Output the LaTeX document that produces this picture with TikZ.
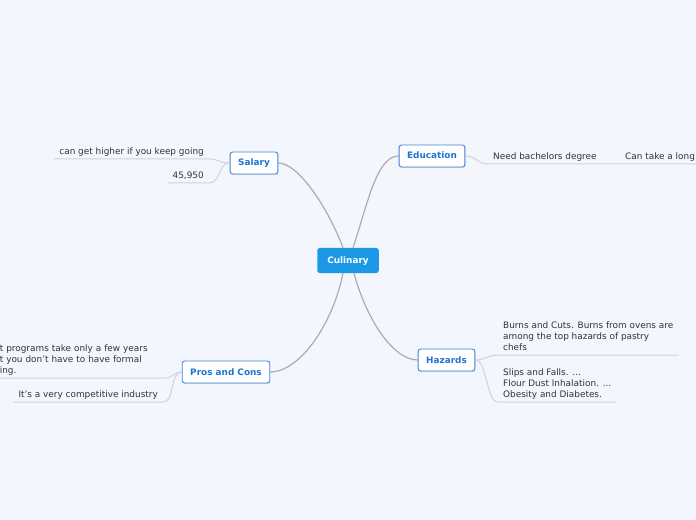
\documentclass[tikz,border=0pt]{standalone}
\usepackage{fontspec}
\setmainfont{DejaVu Sans}
\usetikzlibrary{shadows}
\definecolor{PageBg}{RGB}{243,246,253}
\definecolor{CentralBlue}{RGB}{27,152,230}
\definecolor{TopicBorder}{RGB}{60,133,214}
\definecolor{TopicText}{RGB}{28,117,212}
\definecolor{LeafText}{RGB}{51,51,51}
\definecolor{BranchGray}{RGB}{172,172,180}
\definecolor{TwigGray}{RGB}{205,210,222}
\newcommand{\leaffont}{\fontsize{8.9bp}{11bp}\selectfont}
\newcommand{\topicfont}{\fontsize{8.9bp}{11bp}\selectfont\bfseries}

\begin{document}
\begin{tikzpicture}[
  x=1bp, y=-1bp,
  every node/.style={font=\leaffont},
  central/.style={fill=CentralBlue, text=white, rounded corners=2.5bp,
                  font=\topicfont, inner xsep=10bp, minimum height=25bp,
                  text height=7bp, text depth=1bp},
  topic/.style={draw=TopicBorder, fill=white, rounded corners=2.5bp,
                line width=0.9bp, text=TopicText, font=\topicfont,
                inner xsep=8bp, minimum height=22bp,
                text height=7bp, text depth=1bp,
                drop shadow={shadow xshift=0.4bp, shadow yshift=-1bp, opacity=0.25}},
  leaf/.style={text=LeafText, align=left, inner xsep=5bp, inner ysep=1bp},
  branch/.style={draw=BranchGray, line width=1.2bp},
  twig/.style={draw=TwigGray, line width=1bp}
]
  \useasboundingbox (0,0) rectangle (696,520);
  \fill[PageBg] (0,0) rectangle (696,520);
  \clip (0,0) rectangle (696,520);

  %% Central topic and main topics
  \node[central] (culinary)  at (348,260.5) {Culinary};
  \node[topic]   (education) at (432,156)   {Education};
  \node[topic]   (salary)    at (254,163)   {Salary};
  \node[topic]   (pros)      at (226,372)   {Pros and Cons};
  \node[topic]   (hazards)   at (446.5,360) {Hazards};

  %% Main branches
  \draw[branch] ([xshift=-5bp]culinary.north) .. controls +(-15,-40) and +(20,0) .. (salary.east);
  \draw[branch] ([xshift=5bp]culinary.north)  .. controls +(15,-45) and +(-22,0) .. (education.west);
  \draw[branch] ([xshift=-5bp]culinary.south) .. controls +(-10,50) and +(30,0) .. (pros.east);
  \draw[branch] ([xshift=6bp]culinary.south)  .. controls +(12,45) and +(-25,0) .. (hazards.west);

  %% Education
  \node[leaf, anchor=south west] (bachelors) at (488,164) {Need bachelors degree\strut};
  \node[leaf, anchor=south west] (longtime)  at (620,164) {Can take a long\strut};
  \draw[twig] (education.east) .. controls +(12,0) and +(-12,0) .. (bachelors.south west)
              -- (longtime.south west) -- (longtime.south east);

  %% Salary
  \node[leaf, anchor=south east] (higher) at (209,159) {can get higher if you keep going\strut};
  \node[leaf, anchor=south east] (amount) at (209,183) {45,950\strut};
  \draw[twig] (salary.west) .. controls +(-10,0) and +(10,0) .. (higher.south east) -- (higher.south west);
  \draw[twig] (salary.west) .. controls +(-12,0) and +(12,0) .. (amount.south east) -- (amount.south west);

  %% Pros and Cons
  \node[leaf, anchor=south east, text width=160bp] (fewyears) at (165,378)
    {t programs take only a few years\\t you don't have to have formal\\ing.\strut};
  \node[leaf, anchor=south east] (competitive) at (163,402) {It's a very competitive industry\strut};
  \draw[twig] (pros.west) .. controls +(-9,0) and +(9,0) .. (fewyears.south east) -- (fewyears.south west);
  \draw[twig] (pros.west) .. controls +(-12,0) and +(12,0) .. (competitive.south east) -- (competitive.south west);

  %% Hazards
  \node[leaf, anchor=south west] (burns) at (498,355)
    {Burns and Cuts. Burns from ovens are\\among the top hazards of pastry\\chefs\strut};
  \node[leaf, anchor=south west] (slips) at (498,402)
    {Slips and Falls. ...\\Flour Dust Inhalation. ...\\Obesity and Diabetes.\strut};
  \draw[twig] (hazards.east) .. controls +(10,0) and +(-10,0) .. (burns.south west) -- (burns.south east);
  \draw[twig] (hazards.east) .. controls +(12,0) and +(-12,0) .. (slips.south west) -- (slips.south east);
\end{tikzpicture}
\end{document}
